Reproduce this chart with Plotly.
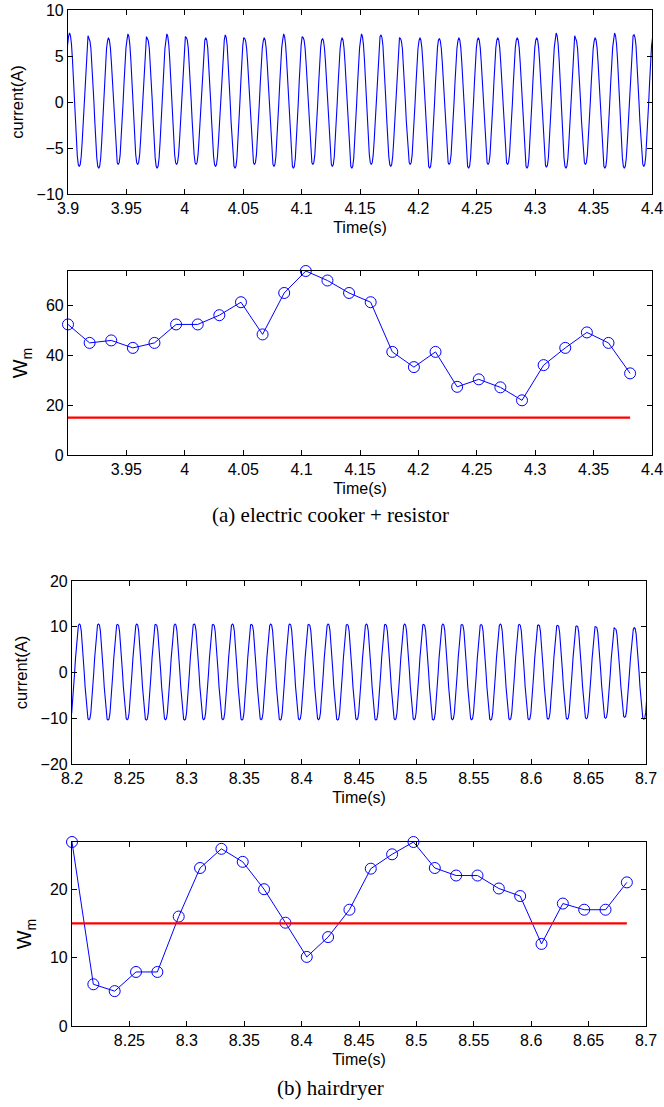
import numpy as np
import plotly.graph_objects as go

# ---------------- data ----------------
# one 60 Hz cycle of the current, normalised, starting at the positive peak (20 samples / cycle)
cycle_shape_a = [1.0, 0.96, 0.84, 0.62, 0.33, 0.02, -0.30, -0.60, -0.84, -0.97,
                 -1.0, -0.97, -0.85, -0.62, -0.33, -0.02, 0.30, 0.60, 0.84, 0.96]
cycle_shape_b = [1.0, 0.98, 0.86, 0.63, 0.34, 0.03, -0.30, -0.60, -0.85, -0.98,
                 -1.0, -0.98, -0.86, -0.62, -0.33, -0.02, 0.30, 0.60, 0.85, 0.98]
mains_period = 1 / 60

# (a) electric cooker + resistor : current waveform, per-cycle peaks / troughs
cur_a_first_peak = 3.9013 - 1 / 60
cur_a_peaks = [7.4, 7.5, 6.9, 7.0, 7.4, 6.9, 7.4, 7.0, 7.0, 7.3, 6.9, 7.0, 7.4, 7.0, 6.9, 7.0,
               7.4, 7.3, 6.9, 7.0, 6.9, 7.0, 7.0, 7.0, 7.0, 7.0, 7.5, 6.9, 7.0, 7.5, 7.3]
cur_a_troughs = [7.0, 7.0, 7.2, 6.8, 6.8, 7.2, 6.8, 6.8, 7.0, 7.2, 6.8, 7.0, 7.2, 6.8, 7.0, 7.2,
                 6.8, 7.0, 6.8, 7.2, 6.8, 7.2, 6.8, 6.8, 7.2, 7.1, 7.2, 6.8, 7.2, 7.2, 7.0]

# (a) W_m values
wm_a_t0 = 3.9
wm_a_step = 0.01851
wm_a = [52.3, 44.9, 45.9, 42.9, 44.9, 52.3, 52.3, 56.0, 61.2, 48.3, 64.9, 73.7, 69.9, 64.9,
        61.2, 41.3, 35.2, 41.3, 27.3, 30.3, 27.1, 21.9, 36.0, 42.9, 49.1, 44.9, 32.7]

# (b) hairdryer : current waveform
cur_b_first_peak = 8.2064 - 1 / 60
cur_b_peaks = [10.5, 10.6, 10.6, 10.5, 10.6, 10.5, 10.6, 10.6, 10.5, 10.6, 10.5, 10.6, 10.6,
               10.5, 10.6, 10.5, 10.6, 10.5, 10.6, 10.5, 10.6, 10.5, 10.5, 10.6, 10.5, 10.4,
               10.3, 10.2, 10.0, 9.6, 9.8]
cur_b_troughs = [10.3, 10.3, 10.4, 10.3, 10.4, 10.3, 10.4, 10.3, 10.3, 10.4, 10.3, 10.4, 10.3,
                 10.3, 10.4, 10.3, 10.4, 10.3, 10.3, 10.4, 10.3, 10.3, 10.4, 10.3, 10.3, 10.2,
                 10.2, 10.1, 10.0, 9.8, 10.2]

# (b) W_m values
wm_b_t0 = 8.2
wm_b_step = 0.01859
wm_b = [26.9, 6.1, 5.1, 7.9, 7.9, 16.0, 23.1, 25.9, 24.0, 20.0, 15.1, 10.1, 13.0, 17.0,
        23.0, 25.1, 26.9, 23.1, 22.0, 22.0, 20.1, 19.0, 12.0, 17.9, 17.0, 17.0, 21.0]

threshold = 15

# tick labels
xt_a_vals = [3.9, 3.95, 4.0, 4.05, 4.1, 4.15, 4.2, 4.25, 4.3, 4.35, 4.4]
xt_a_text = ["3.9", "3.95", "4", "4.05", "4.1", "4.15", "4.2", "4.25", "4.3", "4.35", "4.4"]
xt_b_vals = [8.2, 8.25, 8.3, 8.35, 8.4, 8.45, 8.5, 8.55, 8.6, 8.65, 8.7]
xt_b_text = ["8.2", "8.25", "8.3", "8.35", "8.4", "8.45", "8.5", "8.55", "8.6", "8.65", "8.7"]
yt_cur_a = [-10, -5, 0, 5, 10]
yt_cur_b = [-20, -10, 0, 10, 20]
yt_wm_a = [0, 20, 40, 60]
yt_wm_b = [0, 10, 20]
caption_a = "(a) electric cooker + resistor"
caption_b = "(b) hairdryer"


# ---------------- build series ----------------
def waveform(first_peak, peaks, troughs, shape):
    n = len(shape)
    t, v = [], []
    for k in range(len(peaks)):
        for j, s in enumerate(shape):
            t.append(first_peak + (k + j / n) * mains_period)
            v.append(s * (peaks[k] if s >= 0 else troughs[k]))
    return np.array(t), np.array(v)


ta, ia = waveform(cur_a_first_peak, cur_a_peaks, cur_a_troughs, cycle_shape_a)
tb, ib = waveform(cur_b_first_peak, cur_b_peaks, cur_b_troughs, cycle_shape_b)
twa = wm_a_t0 + wm_a_step * np.arange(len(wm_a))
twb = wm_b_t0 + wm_b_step * np.arange(len(wm_b))

W, H = 664, 1107
BLUE = "#0000FF"
RED = "#FF0000"
FONT = "Liberation Sans"


def px_x(a, b):
    return [a / W, b / W]


def px_y(top, bottom):
    return [1 - bottom / H, 1 - top / H]


fig = go.Figure()
fig.add_trace(go.Scatter(x=ta, y=ia, mode="lines", line=dict(color=BLUE, width=1.1),
                         xaxis="x", yaxis="y", showlegend=False))
fig.add_trace(go.Scatter(x=twa, y=wm_a, mode="lines+markers", line=dict(color=BLUE, width=1),
                         marker=dict(symbol="circle-open", size=11, color=BLUE, line=dict(width=1)),
                         cliponaxis=False, xaxis="x2", yaxis="y2", showlegend=False))
fig.add_trace(go.Scatter(x=[twa[0], twa[-1]], y=[threshold, threshold], mode="lines",
                         line=dict(color=RED, width=2.2), xaxis="x2", yaxis="y2", showlegend=False))
fig.add_trace(go.Scatter(x=tb, y=ib, mode="lines", line=dict(color=BLUE, width=1.1),
                         xaxis="x3", yaxis="y3", showlegend=False))
fig.add_trace(go.Scatter(x=twb, y=wm_b, mode="lines+markers", line=dict(color=BLUE, width=1),
                         marker=dict(symbol="circle-open", size=11, color=BLUE, line=dict(width=1)),
                         cliponaxis=False, xaxis="x4", yaxis="y4", showlegend=False))
fig.add_trace(go.Scatter(x=[twb[0], twb[-1]], y=[threshold, threshold], mode="lines",
                         line=dict(color=RED, width=2.2), xaxis="x4", yaxis="y4", showlegend=False))

axis_common = dict(showline=True, linecolor="black", linewidth=1.2, mirror="ticks",
                   ticks="inside", ticklen=5, tickcolor="black", showgrid=False, zeroline=False,
                   automargin=False, tickfont=dict(family=FONT, size=16, color="black"))
tfont = dict(family=FONT, size=16, color="black")
cfont = dict(family=FONT, size=16.5, color="black")
wfont = dict(family=FONT, size=20, color="black")

fig.update_layout(
    width=W, height=H, margin=dict(l=0, r=0, t=0, b=0, autoexpand=False),
    paper_bgcolor="white", plot_bgcolor="white",
    xaxis=dict(domain=px_x(68, 652), range=[3.9, 4.4], tickvals=xt_a_vals, ticktext=xt_a_text,
               title=dict(text="Time(s)", font=tfont, standoff=5), anchor="y", **axis_common),
    yaxis=dict(domain=px_y(10, 194), range=[-10, 10], tickvals=yt_cur_a,
               title=dict(text="current(A)", font=cfont, standoff=8), anchor="x", **axis_common),
    xaxis2=dict(domain=px_x(68, 652), range=[3.9, 4.4], tickvals=xt_a_vals[1:], ticktext=xt_a_text[1:],
                title=dict(text="Time(s)", font=tfont, standoff=5), anchor="y2", **axis_common),
    yaxis2=dict(domain=px_y(271, 455), range=[0, 73.7], tickvals=yt_wm_a,
                title=dict(text="W<sub>m</sub>", font=wfont, standoff=12), anchor="x2", **axis_common),
    xaxis3=dict(domain=px_x(72, 646), range=[8.2, 8.7], tickvals=xt_b_vals, ticktext=xt_b_text,
                title=dict(text="Time(s)", font=tfont, standoff=5), anchor="y3", **axis_common),
    yaxis3=dict(domain=px_y(581, 764), range=[-20, 20], tickvals=yt_cur_b,
                title=dict(text="current(A)", font=cfont, standoff=8), anchor="x3", **axis_common),
    xaxis4=dict(domain=px_x(72, 646), range=[8.2, 8.7], tickvals=xt_b_vals[1:], ticktext=xt_b_text[1:],
                title=dict(text="Time(s)", font=tfont, standoff=5), anchor="y4", **axis_common),
    yaxis4=dict(domain=px_y(842, 1026), range=[0, 26.9], tickvals=yt_wm_b,
                title=dict(text="W<sub>m</sub>", font=wfont, standoff=12), anchor="x4", **axis_common),
    annotations=[
        dict(text=caption_a, x=330 / W, y=1 - 515 / H, xref="paper", yref="paper", showarrow=False,
             font=dict(family="Liberation Serif", size=21, color="black"), xanchor="center", yanchor="middle"),
        dict(text=caption_b, x=330 / W, y=1 - 1088 / H, xref="paper", yref="paper", showarrow=False,
             font=dict(family="Liberation Serif", size=21, color="black"), xanchor="center", yanchor="middle"),
    ],
)

fig.write_html("out.html", config={"displayModeBar": False},
               post_script="document.body.style.margin='0px';document.body.style.overflow='hidden';")
